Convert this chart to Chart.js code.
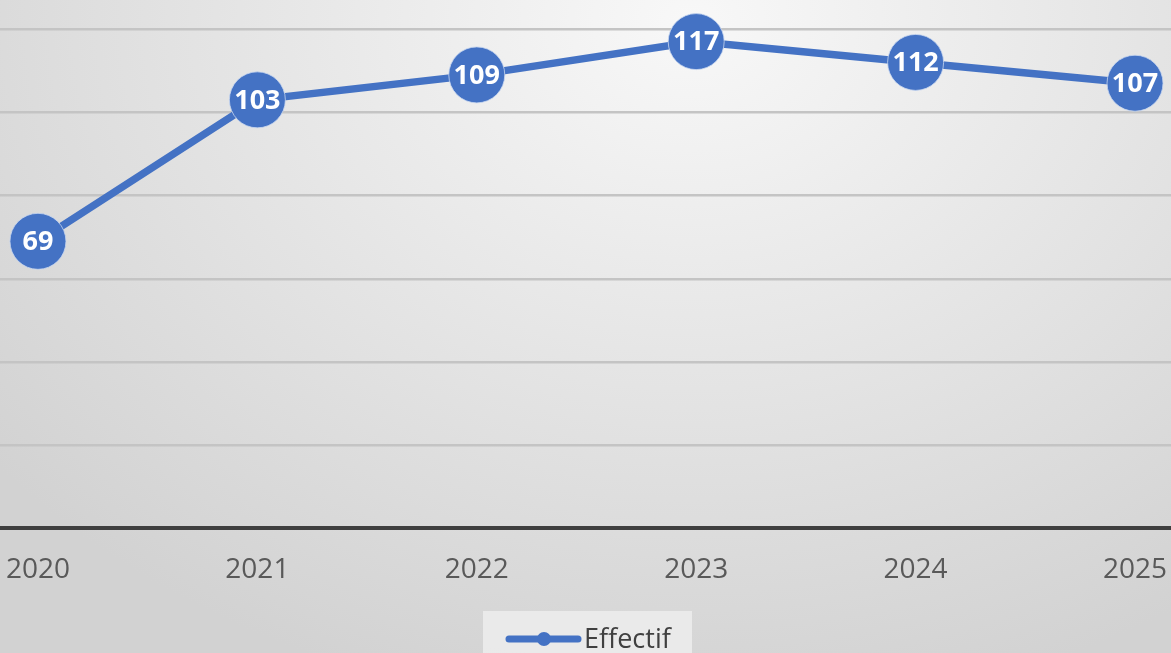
<!DOCTYPE html>
<html>
<head>
<meta charset="utf-8">
<script src="https://cdn.jsdelivr.net/npm/chart.js@4"></script>
<style>
  html, body { margin: 0; padding: 0; }
  body {
    width: 1171px; height: 653px; overflow: hidden;
    background: radial-gradient(ellipse 900px 700px at 690px 20px, #f8f8f8 0%, #e5e5e5 50%, #d2d2d2 100%);
  }
  #wrap { position: relative; width: 1171px; height: 653px; }
</style>
</head>
<body>
<div id="wrap"><canvas id="myChart"></canvas></div>
<script>
const years = [2020, 2021, 2022, 2023, 2024, 2025];
const effectif = [69, 103, 109, 117, 112, 107];
const gridValues = [0, 20, 40, 60, 80, 100, 120];
const seriesName = 'Effectif';

const blue = '#4472C4';
const font = '"Open Sans", "Noto Sans", sans-serif';

// white value in each marker
const valueLabels = {
    id: 'valueLabels',
    afterDatasetsDraw(chart) {
        const c = chart.ctx;
        const meta = chart.getDatasetMeta(0);
        c.save();
        c.fillStyle = '#ffffff';
        c.font = 'bold 27px ' + font;
        c.textAlign = 'center';
        c.textBaseline = 'middle';
        meta.data.forEach((pt, i) => {
            c.fillText(String(effectif[i]), pt.x, pt.y + 1);
        });
        c.restore();
    }
};

// legend box at the bottom, cut off like the reference
const bottomLegend = {
    id: 'bottomLegend',
    afterDraw(chart) {
        const c = chart.ctx;
        const cx = 587;
        c.save();
        c.fillStyle = 'rgba(240,240,240,0.75)';
        c.fillRect(cx - 104, 611, 209, 50);
        c.strokeStyle = blue;
        c.lineWidth = 7;
        c.lineCap = 'round';
        c.beginPath();
        c.moveTo(cx - 78, 639);
        c.lineTo(cx - 9, 639);
        c.stroke();
        c.fillStyle = blue;
        c.beginPath();
        c.arc(cx - 43, 639, 7, 0, Math.PI * 2);
        c.fill();
        c.fillStyle = '#404040';
        c.font = '27px ' + font;
        c.textAlign = 'left';
        c.textBaseline = 'alphabetic';
        c.fillText(seriesName, cx - 3, 648);
        c.restore();
    }
};

const ctx = document.getElementById('myChart').getContext('2d');
const myChart = new Chart(ctx, {
    type: 'line',
    data: {
        datasets: [{
            label: seriesName,
            data: years.map((y, i) => ({ x: y, y: effectif[i] })),
            borderColor: blue,
            backgroundColor: blue,
            borderWidth: 7.5,
            pointRadius: 28,
            pointHoverRadius: 28,
            pointBackgroundColor: blue,
            pointBorderColor: 'rgba(200,215,240,0.8)',
            pointBorderWidth: 1,
            tension: 0,
            clip: false
        }]
    },
    options: {
        responsive: true,
        maintainAspectRatio: false,
        animation: false,
        layout: { autoPadding: false, padding: { left: 0, right: 0, top: 0, bottom: 42 } },
        plugins: {
            legend: { display: false },
            tooltip: { enabled: false }
        },
        scales: {
            x: {
                type: 'linear',
                min: 2019.827,
                max: 2025.164,
                afterBuildTicks: s => { s.ticks = years.map(v => ({ value: v })); },
                grid: { display: false, drawTicks: false },
                border: { display: true, color: '#3f3f3f', width: 4 },
                ticks: {
                    padding: 0,
                    color: '#595959',
                    font: { family: font, size: 28, lineHeight: 2.95 },
                    callback: v => String(v),
                    maxRotation: 0
                }
            },
            y: {
                min: 0,
                max: 127,
                afterBuildTicks: s => { s.ticks = gridValues.map(v => ({ value: v })); },
                ticks: { display: false },
                grid: { color: '#c4c4c4', lineWidth: 2.5, drawTicks: false },
                border: { display: false }
            }
        }
    },
    plugins: [valueLabels, bottomLegend]
});
</script>
</body>
</html>
